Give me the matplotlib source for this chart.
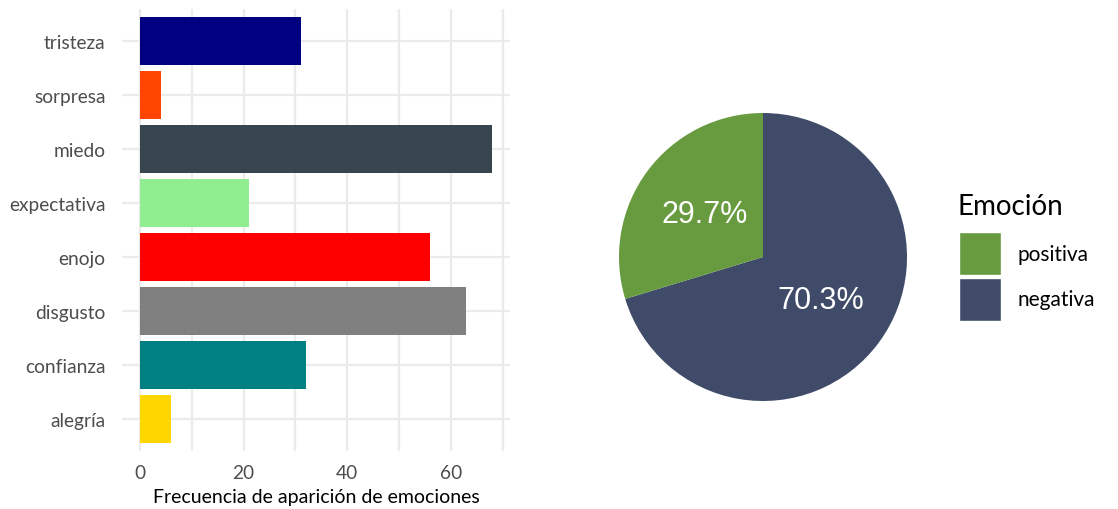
import matplotlib
matplotlib.use("Agg")
import matplotlib.pyplot as plt
from matplotlib.patches import Patch
from matplotlib.ticker import MultipleLocator

# emociones (orden de abajo hacia arriba)
emociones = ["alegría", "confianza", "disgusto", "enojo", "expectativa", "miedo", "sorpresa", "tristeza"]
frecuencias = [6, 32, 63, 56, 21, 68, 4, 31]
colores_barras = ["#FFD700", "#008080", "#808080", "#FF0000", "#90EE90", "#37454F", "#FF4500", "#000080"]

sentimientos = ["negativa", "positiva"]
porcentajes = [70.3, 29.7]
colores_pie = ["#3F4B68", "#689B3F"]
orden_leyenda = ["positiva", "negativa"]

W, H = 1118, 510
plt.rcParams['font.family'] = ['Lato', 'DejaVu Sans']

fig = plt.figure(figsize=(W / 100, H / 100), dpi=100)

# ---- barras ----
left, right, top, bottom = 122.4, 510, 9.6, 452.4
ax1 = fig.add_axes([left / W, 1 - bottom / H, (right - left) / W, (bottom - top) / H])
ypos = list(range(1, len(emociones) + 1))
ax1.barh(ypos, frecuencias, height=0.9, color=colores_barras, zorder=3)
ax1.set_xlim(-3.4, 71.4)
ax1.set_ylim(0.4, 8.6)
ax1.set_yticks(ypos)
ax1.set_yticklabels(emociones)
ax1.xaxis.set_major_locator(MultipleLocator(20))
ax1.xaxis.set_minor_locator(MultipleLocator(10))
ax1.grid(True, which="both", axis="x", color="#EBEBEB", linewidth=1.6, zorder=0)
ax1.grid(True, which="major", axis="y", color="#EBEBEB", linewidth=1.6, zorder=0)
for s in ax1.spines.values():
    s.set_visible(False)
ax1.tick_params(which="both", length=0, labelsize=13.8, labelcolor="#4D4D4D", pad=12)
ax1.tick_params(axis="x", pad=9)
ax1.set_xlabel("Frecuencia de aparición de emociones", fontsize=14, color="black", labelpad=5)

# ---- pie ----
cx, cy, r = 763, 258, 144
ax2 = fig.add_axes([(cx - r) / W, 1 - (cy + r) / H, 2 * r / W, 2 * r / H])
wedges, textos = ax2.pie(porcentajes, colors=colores_pie, startangle=90, counterclock=False,
                         labels=[f"{p}%" for p in porcentajes], labeldistance=0.5,
                         textprops=dict(color="white", fontsize=22, family="Liberation Sans"))
for t in textos:
    t.set_horizontalalignment("center")
    t.set_verticalalignment("center")
ax2.set_xlim(-1, 1)
ax2.set_ylim(-1, 1)
ax2.set_aspect("equal")
ax2.axis("off")

# leyenda
fig.text(957 / W, 1 - 215 / H, "Emoción", fontsize=20, color="black", va="baseline", ha="left")
handles = [Patch(facecolor=colores_pie[sentimientos.index(s)], edgecolor="white", linewidth=1)
           for s in orden_leyenda]
leg = fig.legend(handles, orden_leyenda, loc="upper left",
                 bbox_to_anchor=(959 / W, 1 - 233 / H), frameon=False, fontsize=15,
                 handlelength=2.0, handleheight=2.8, labelspacing=0.12,
                 handletextpad=0.8, borderpad=0, borderaxespad=0)

fig.savefig("out.png", dpi=100)
